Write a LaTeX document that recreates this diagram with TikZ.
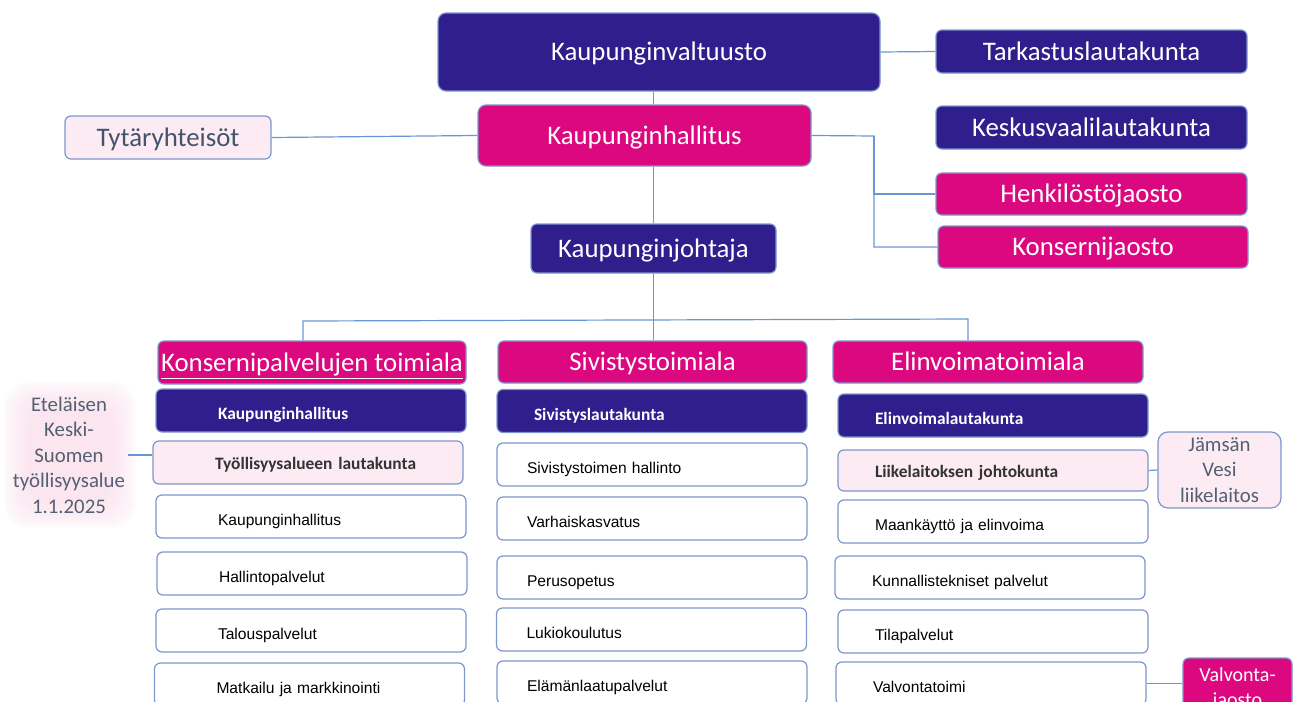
\documentclass[tikz,border=0pt]{standalone}
\usepackage{fontspec}
\setmainfont{Carlito}
\newfontfamily\arialfont{Liberation Sans}

\definecolor{navyblue}{RGB}{47,30,140}
\definecolor{hotpink}{RGB}{220,8,128}
\definecolor{palepink}{RGB}{252,235,243}
\definecolor{framecol}{RGB}{125,150,205}
\definecolor{linecol}{RGB}{105,150,212}
\definecolor{slatetext}{RGB}{68,84,106}
\definecolor{greytext}{RGB}{84,96,116}
\definecolor{glowpink}{RGB}{250,222,235}

\begin{document}
\begin{tikzpicture}[x=0.5pt, y=-0.5pt,
 every node/.style = {shape=rectangle, rounded corners=3pt, draw=framecol, line width=0.6pt, align=center, inner sep=0pt},
 big/.style = {font=\fontsize{13.4}{16}\selectfont, text height=10.8pt, text depth=2.2pt},
 side/.style = {font=\fontsize{10.4}{12.75}\selectfont},
 navybox/.style = {fill=navyblue, text=white},
 pinkbox/.style = {fill=hotpink, text=white},
 palebox/.style = {fill=palepink},
 unit/.style = {minimum height=21.5pt, align=left, text height=10.5pt, text depth=1.4pt, font=\arialfont\fontsize{7.8}{9}\selectfont},
 board/.style = {font=\bfseries\fontsize{8.7}{10}\selectfont},
 cola/.style = {unit, inner xsep=31pt, text width=93pt},
 colb/.style = {unit, inner xsep=15pt, text width=125pt},
 colc/.style = {unit, inner xsep=18.5pt, text width=118pt},
 link/.style = {draw=linecol, line width=0.6pt}]
 \useasboundingbox (0,0) rectangle (1297,702);
 \clip (0,0) rectangle (1297,702);

 % soft glow behind the employment area text
 \foreach \g in {0,...,11}
   \fill[glowpink, opacity=0.12, rounded corners=12pt] (4+2.5*\g,382+2.5*\g) rectangle (136-2.5*\g,528-2.5*\g);

 % top level
 \node [navybox, big, rounded corners=4pt, minimum width=221pt, minimum height=39pt] (valt) at (659,52) {Kaupunginvaltuusto};
 \node [navybox, big, minimum width=155.5pt, minimum height=21.5pt] (tark) at (1091.5,51.5) {Tarkastuslautakunta};
 \node [navybox, big, minimum width=155.5pt, minimum height=21.5pt] (kesk) at (1091.5,127.5) {Keskusvaalilautakunta};
 \node [pinkbox, big, rounded corners=4pt, minimum width=166.5pt, minimum height=30.5pt] (hall) at (644.5,135.5) {Kaupunginhallitus};
 \node [palebox, big, text=slatetext, minimum width=103pt, minimum height=21.5pt] (tyt) at (168,137.5) {Tytäryhteisöt};
 \node [pinkbox, big, minimum width=155.5pt, minimum height=21pt] (henk) at (1091.5,194) {Henkilöstöjaosto};
 \node [pinkbox, big, minimum width=155pt, minimum height=21pt] (konj) at (1093,247) {Konsernijaosto};
 \node [navybox, big, minimum width=122.5pt, minimum height=24.5pt] (joht) at (653.5,248.5) {Kaupunginjohtaja};

 % sectors
 \node [pinkbox, big, minimum width=154pt, minimum height=21.5pt] (konsp) at (312,362.5) {\underline{Konsernipalvelujen toimiala}};
 \node [pinkbox, big, minimum width=154.5pt, minimum height=21pt] (sivt) at (652.5,362) {Sivistystoimiala};
 \node [pinkbox, big, minimum width=155pt, minimum height=21pt] (elin) at (988,362) {Elinvoimatoimiala};

 % Konsernipalvelujen toimiala
 \node [cola, board, navybox] (k1) at (311,410.5) {Kaupunginhallitus};
 \node [cola, board, palebox, text=black!80, text height=8pt, text depth=1.5pt] (k2) at (308,462.5) {\mbox{Työllisyysalueen lautakunta}};
 \node [cola] (k3) at (311,516.5) {Kaupunginhallitus};
 \node [cola] (k4) at (312,573.5) {Hallintopalvelut};
 \node [cola] (k5) at (311,630.5) {Talouspalvelut};
 \node [cola] (k6) at (309.5,684.5) {Matkailu ja markkinointi};

 % Sivistystoimiala
 \node [colb, board, navybox, inner xsep=18.5pt, text width=118pt] (s1) at (652,411) {Sivistyslautakunta};
 \node [colb] (s2) at (652,464.5) {Sivistystoimen hallinto};
 \node [colb] (s3) at (652,518.5) {Varhaiskasvatus};
 \node [colb] (s4) at (652,577.5) {Perusopetus};
 \node [colb] (s5) at (651.5,629.5) {Lukiokoulutus};
 \node [colb] (s6) at (652,682.5) {Elämänlaatupalvelut};

 % Elinvoimatoimiala
 \node [colc, board, navybox] (e1) at (993,415.5) {Elinvoimalautakunta};
 \node [colc, board, palebox, text=black!80, text height=8pt, text depth=1.5pt, minimum height=20.5pt] (e2) at (993,470.5) {Liikelaitoksen johtokunta};
 \node [colc] (e3) at (993,521.5) {Maankäyttö ja elinvoima};
 \node [colc] (e4) at (990,577.5) {Kunnallistekniset palvelut};
 \node [colc] (e5) at (993,631.5) {Tilapalvelut};
 \node [colc] (e6) at (991,683.5) {Valvontatoimi};

 % side boxes
 \node [side, draw=none, text=greytext, minimum width=58pt] (etel) at (69,455) {Eteläisen\\Keski-\\Suomen\\työllisyysalue\\1.1.2025};
 \node [side, palebox, text=greytext, rounded corners=5pt, minimum width=61.5pt, minimum height=38pt] (jams) at (1219.5,470) {Jämsän\\Vesi\\liikelaitos};
 \node [pinkbox, font=\fontsize{10}{12.75}\selectfont, minimum width=54.5pt, minimum height=31pt] (valvj) at (1237.5,689) {Valvonta-\\jaosto};

 % connectors
 \coordinate (hj) at (874,136);
 \coordinate (busl) at (303,321);
 \coordinate (busr) at (968,319);
 \draw[link] (valt.east) -- (tark.west);
 \draw[link] (joht |- valt.south) -- (joht |- hall.north);
 \draw[link] (tyt.east) -- (hall.west);
 \draw[link] (hall.east) -- (hj) |- (konj.west);
 \draw[link] (hj) |- (henk.west);
 \draw[link] (joht |- hall.south) -- (joht.north);
 \draw[link] (joht.south) -- (joht |- sivt.north);
 \draw[link] (busl |- konsp.north) -- (busl) -- (busr) -- (busr |- elin.north);
 \draw[link] (etel.east) -- (etel.east -| k2.west);
 \draw[link] (e2.east) -- (jams.west);
 \draw[link] (e6.east) -- (e6.east -| valvj.west);
\end{tikzpicture}
\end{document}
